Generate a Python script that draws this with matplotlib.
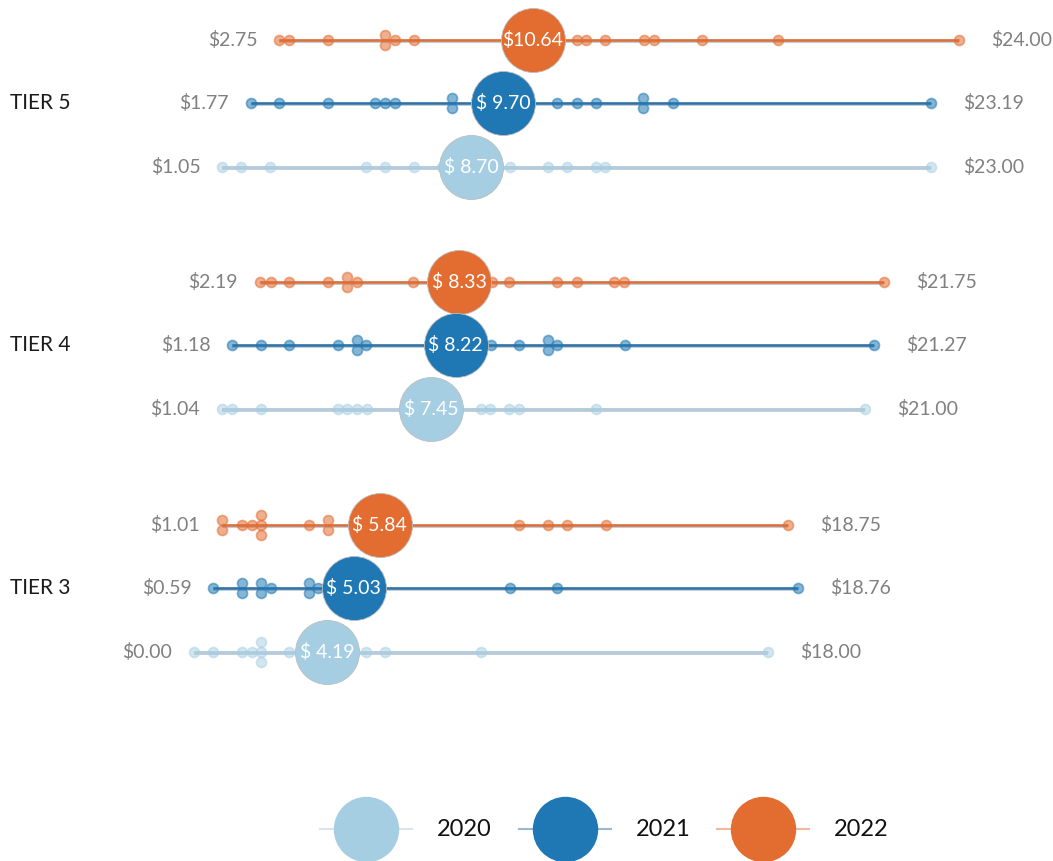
import matplotlib
matplotlib.use("Agg")
import matplotlib.pyplot as plt
from collections import Counter

plt.rcParams["font.family"] = ["Lato", "DejaVu Sans"]

C_2020 = "#a6cee3"
C_2021 = "#1f78b4"
C_2022 = "#e36c31"

years = ["2022", "2021", "2020"]
tiers = ["TIER 5", "TIER 4", "TIER 3"]

# individual prices per tier, per year (2022, 2021, 2020)
tier5_2022 = [2.70, 3.02, 4.22, 6.01, 6.01, 6.32, 6.92, 12.01, 12.30, 12.90, 14.12, 14.43, 15.93, 18.33, 23.99]
tier5_2021 = [1.81, 2.70, 4.22, 5.70, 6.01, 6.32, 8.12, 8.12, 11.41, 12.01, 12.61, 14.10, 14.10, 15.02, 23.11]
tier5_2020 = [0.92, 1.50, 2.41, 5.42, 6.01, 6.92, 7.80, 9.92, 11.11, 11.70, 12.61, 12.90, 23.11]

tier4_2022 = [2.10, 2.43, 3.02, 4.22, 4.81, 4.81, 5.12, 6.90, 9.35, 9.90, 11.41, 12.01, 13.19, 13.50, 21.63]
tier4_2021 = [1.23, 2.13, 3.02, 4.53, 5.12, 5.12, 5.43, 9.33, 10.21, 11.11, 11.11, 11.41, 13.53, 21.33]
tier4_2020 = [0.90, 1.21, 2.13, 4.53, 4.83, 5.12, 5.44, 9.02, 9.30, 9.90, 10.21, 12.62, 21.04]

tier3_2022 = [0.91, 0.91, 1.53, 1.84, 2.13, 2.13, 2.13, 3.63, 4.22, 4.22, 10.21, 11.10, 11.70, 12.92, 18.62]
tier3_2021 = [0.64, 1.52, 1.52, 2.13, 2.13, 2.43, 3.63, 3.63, 3.92, 9.92, 11.41, 18.93]
tier3_2020 = [0.04, 0.64, 1.52, 1.84, 2.13, 2.13, 2.13, 3.02, 5.41, 6.01, 9.02, 18.01]

# average price shown in the big circle
avg_tier5 = [10.64, 9.70, 8.70]
avg_tier4 = [8.33, 8.22, 7.45]
avg_tier3 = [5.84, 5.03, 4.19]

# min / max labels
min_tier5 = [2.75, 1.77, 1.05]
max_tier5 = [24.00, 23.19, 23.00]
min_tier4 = [2.19, 1.18, 1.04]
max_tier4 = [21.75, 21.27, 21.00]
min_tier3 = [1.01, 0.59, 0.00]
max_tier3 = [18.75, 18.76, 18.00]

points = [
    [tier5_2022, tier5_2021, tier5_2020],
    [tier4_2022, tier4_2021, tier4_2020],
    [tier3_2022, tier3_2021, tier3_2020],
]
avgs = [avg_tier5, avg_tier4, avg_tier3]
mins = [min_tier5, min_tier4, min_tier3]
maxs = [max_tier5, max_tier4, max_tier3]

colors = {"2022": C_2022, "2021": C_2021, "2020": C_2020}
line_colors = {"2022": "#e0703a", "2021": "#2f73a8", "2020": "#b3cde0"}
dot_alpha = {"2022": 0.55, "2021": 0.55, "2020": 0.5}

W, H = 1053, 861
fig = plt.figure(figsize=(W / 100, H / 100), dpi=100)
ax = fig.add_axes([0, 0, 1, 1])
ax.set_xlim(-193 / 31.94, (W - 193) / 31.94)
ax.set_ylim(H, 0)
ax.axis("off")

tier_y = [103, 345, 588]
row_off = [-63, 0, 64]
PX = 0.72  # points per pixel
dot_s = (10 * PX) ** 2
big_s = (64 * PX) ** 2

for t, tier in enumerate(tiers):
    ax.text(10 / 31.94 - 193 / 31.94, tier_y[t], tier, fontsize=15,
            color="#1a1a1a", ha="left", va="center")
    for r, yr in enumerate(years):
        y0 = tier_y[t] + row_off[r]
        vals = points[t][r]
        c = colors[yr]
        lo, hi = min(vals), max(vals)
        ax.plot([lo, hi], [y0 + 0.6, y0 + 0.6], color="#b9c3cb", lw=2.6,
                solid_capstyle="butt", zorder=1)
        ax.plot([lo, hi], [y0, y0], color=line_colors[yr], lw=1.8,
                solid_capstyle="butt", zorder=2)

        # stack duplicate values vertically
        counts = Counter(vals)
        xs, ys = [], []
        for v, n in counts.items():
            for i in range(n):
                xs.append(v)
                ys.append(y0 + (i - (n - 1) / 2) * 10)
        ax.scatter(xs, ys, s=dot_s, color=c, alpha=dot_alpha[yr],
                   edgecolors=c, linewidths=1.2, zorder=3)

        a = avgs[t][r]
        ax.scatter([a], [y0], s=big_s, color=c, edgecolors="#bdbdbd",
                   linewidths=0.6, zorder=4)
        ax.text(a, y0, f"${a:5.2f}", color="white", fontsize=14,
                ha="center", va="center", zorder=5)

        ax.annotate(f"${mins[t][r]:.2f}", xy=(lo, y0), xytext=(-22 * PX, 0),
                    textcoords="offset points", ha="right", va="center",
                    fontsize=14, color="#808080")
        ax.annotate(f"${maxs[t][r]:.2f}", xy=(hi, y0), xytext=(32 * PX, 0),
                    textcoords="offset points", ha="left", va="center",
                    fontsize=14, color="#808080")

# legend
leg_years = ["2020", "2021", "2022"]
leg_x = [366, 565, 763]
leg_line = {"2020": "#dde3e8", "2021": "#9bb8d0", "2022": "#f2b8a0"}
for yr, px in zip(leg_years, leg_x):
    xc = (px - 193) / 31.94
    half = 46 / 31.94
    ax.plot([xc - half, xc + half], [829, 829], color=leg_line[yr], lw=1.5, zorder=1)
    ax.scatter([xc], [829], s=big_s, color=colors[yr], zorder=2, clip_on=False)
    ax.text((px + 71 - 193) / 31.94, 829, yr, fontsize=17, color="#111111",
            ha="left", va="center")

fig.savefig("out.png", dpi=100)
